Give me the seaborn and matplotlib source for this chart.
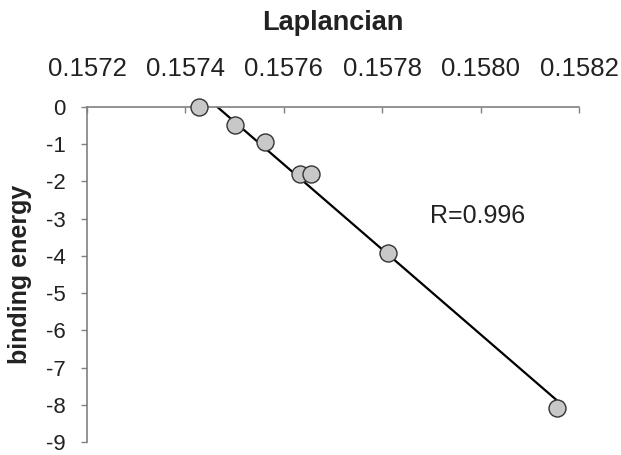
import matplotlib
matplotlib.use("Agg")
import numpy as np
import pandas as pd
import seaborn as sns
from matplotlib import pyplot as plt

# values
laplacian = [0.157428, 0.157501, 0.157562, 0.157633, 0.157655, 0.157812, 0.158156]
binding_energy = [0.0, -0.49, -0.93, -1.81, -1.80, -3.93, -8.08]
x_ticks = [0.1572, 0.1574, 0.1576, 0.1578, 0.1580, 0.1582]
y_ticks = [0, -1, -2, -3, -4, -5, -6, -7, -8, -9]
r_label = "R=0.996"

df = pd.DataFrame({"laplacian": laplacian, "energy": binding_energy})

sns.set_theme(style="white")
plt.rcParams['font.family'] = ['Liberation Sans', 'DejaVu Sans']
text_color = "#222222"
axis_color = "#808080"

fig = plt.figure(figsize=(6.21, 4.55), dpi=100)
ax = fig.add_axes([87 / 621, 1 - 442 / 455, (579 - 87) / 621, (442 - 107) / 455])

# trend line over the data range, clipped at the top axis
sns.regplot(data=df, x="laplacian", y="energy", ax=ax, scatter=False, ci=None,
            truncate=True, line_kws=dict(color="black", lw=1.6, zorder=2))

sns.scatterplot(data=df, x="laplacian", y="energy", ax=ax, s=150, color="#c8c8c8",
                edgecolor="#333333", linewidth=1.0, zorder=3, clip_on=False)

ax.set_xlim(0.1572, 0.1582)
ax.set_ylim(-9, 0)
ax.set_xticks(x_ticks)
ax.set_xticklabels([f"{v:.4f}" for v in x_ticks])
ax.set_yticks(y_ticks)
ax.set_yticklabels([str(v) for v in y_ticks])

ax.xaxis.tick_top()
ax.tick_params(axis="x", direction="in", length=4.5, width=1, color=axis_color,
               labelsize=18.5, labelcolor=text_color, pad=19)
ax.tick_params(axis="y", direction="out", length=4.5, width=1, color=axis_color,
               labelsize=16, labelcolor=text_color, pad=11, left=True)

for side in ["right", "bottom"]:
    ax.spines[side].set_visible(False)
for side in ["left", "top"]:
    ax.spines[side].set_color(axis_color)
    ax.spines[side].set_linewidth(1.2)

ax.set_xlabel("")
ax.set_ylabel("binding energy", fontsize=18, fontweight="bold", color=text_color)
ax.yaxis.set_label_coords(-0.136, 0.5)
ax.yaxis.label.set_va("center")
ax.set_title("Laplancian", fontsize=19.5, fontweight="bold", color=text_color,
             y=1.25, va="center", pad=0)

ax.text(0.157897, -2.92, r_label, fontsize=18, color=text_color, ha="left", va="center")

fig.savefig("out.png", dpi=100)
